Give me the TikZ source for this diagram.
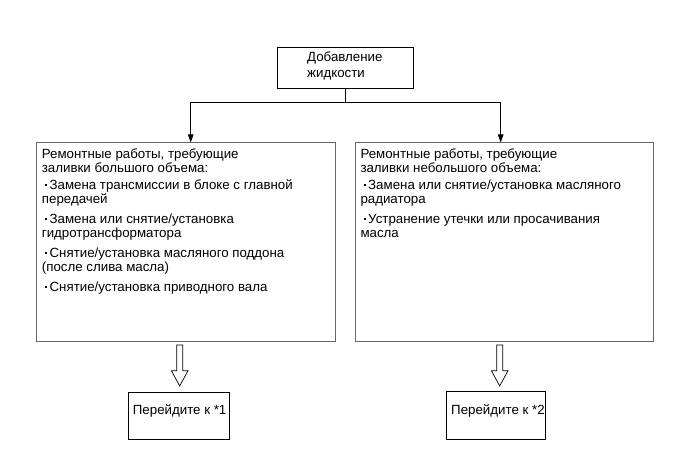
\documentclass[tikz,border=0pt]{standalone}
\usepackage{fontspec}
\setmainfont{Liberation Sans}
\usetikzlibrary{arrows.meta,calc}
\newcommand\mybul{\kern3.3bp\rule[3.3bp]{1.8bp}{1.8bp}\kern2.6bp}
\begin{document}
\begin{tikzpicture}[x=1bp,y=-1bp,
  frame/.style={draw=black, line width=0.9bp, inner sep=0pt, outer sep=0pt, anchor=north west},
  bigframe/.style={frame, draw=black!60, line width=1bp},
  txt/.style={inner sep=0pt, anchor=north west, align=left, font=\fontsize{13.3bp}{14.3bp}\selectfont},
  link/.style={line width=0.7bp},
  tip/.style={-{Triangle[length=8bp,width=5.5bp]}},
  hollow/.style={draw=black, fill=white, line width=0.7bp, line join=miter}]
\useasboundingbox (0,0) rectangle (691,467);
% boxes
\node[frame, minimum width=136bp, minimum height=41bp] (top) at (277,47) {};
\node[bigframe, minimum width=299bp, minimum height=199bp] (lbox) at (36.3,142.5) {};
\node[bigframe, minimum width=298bp, minimum height=199bp] (rbox) at (355.7,142.5) {};
\node[frame, minimum width=101bp, minimum height=47bp] (lgo) at (128,392) {};
\node[frame, minimum width=99bp, minimum height=48bp] (rgo) at (446,391) {};
% texts
\node[txt, font=\fontsize{13.3bp}{16bp}\selectfont] (ttop) at (307,51.6) {Добавление\\жидкости};
\node[txt] (tl) at (41.7,148.5) {Ремонтные работы, требующие\\
заливки большого объема:\\[2.4bp]
\mybul Замена трансмиссии в блоке с главной\\
передачей\\[5.4bp]
\mybul Замена или снятие/установка\\
гидротрансформатора\\[5.4bp]
\mybul Снятие/установка масляного поддона\\
(после слива масла)\\[5.4bp]
\mybul Снятие/установка приводного вала};
\node[txt] (tr) at (360.3,148.5) {Ремонтные работы, требующие\\
заливки небольшого объема:\\[2.4bp]
\mybul Замена или снятие/установка масляного\\
радиатора\\[5.4bp]
\mybul Устранение утечки или просачивания\\
масла};
\node[txt] (tgl) at (132.7,404.4) {Перейдите к *1};
\node[txt] (tgr) at (451,404.4) {Перейдите к *2};
% connectors
\coordinate (jl) at (190.7,102.3);
\coordinate (jr) at (500.7,102.3);
\draw[link] (top.south) -- (top.south |- jl);
\draw[link] (jl) -- (jr);
\draw[link,tip] (jl) -- (jl |- lbox.north);
\draw[link,tip] (jr) -- (jr |- rbox.north);
% hollow arrows
\coordinate (ha) at (179.7,345);
\coordinate (hb) at (499.7,345);
\foreach \c in {ha,hb}{
  \draw[hollow] (\c) ++(-3,0) -- ++(0,25.7) -- ++(-5.3,0) -- ++(8.3,15.3) -- ++(8.3,-15.3) -- ++(-5.3,0) -- ++(0,-25.7) -- cycle;
}
\end{tikzpicture}
\end{document}
